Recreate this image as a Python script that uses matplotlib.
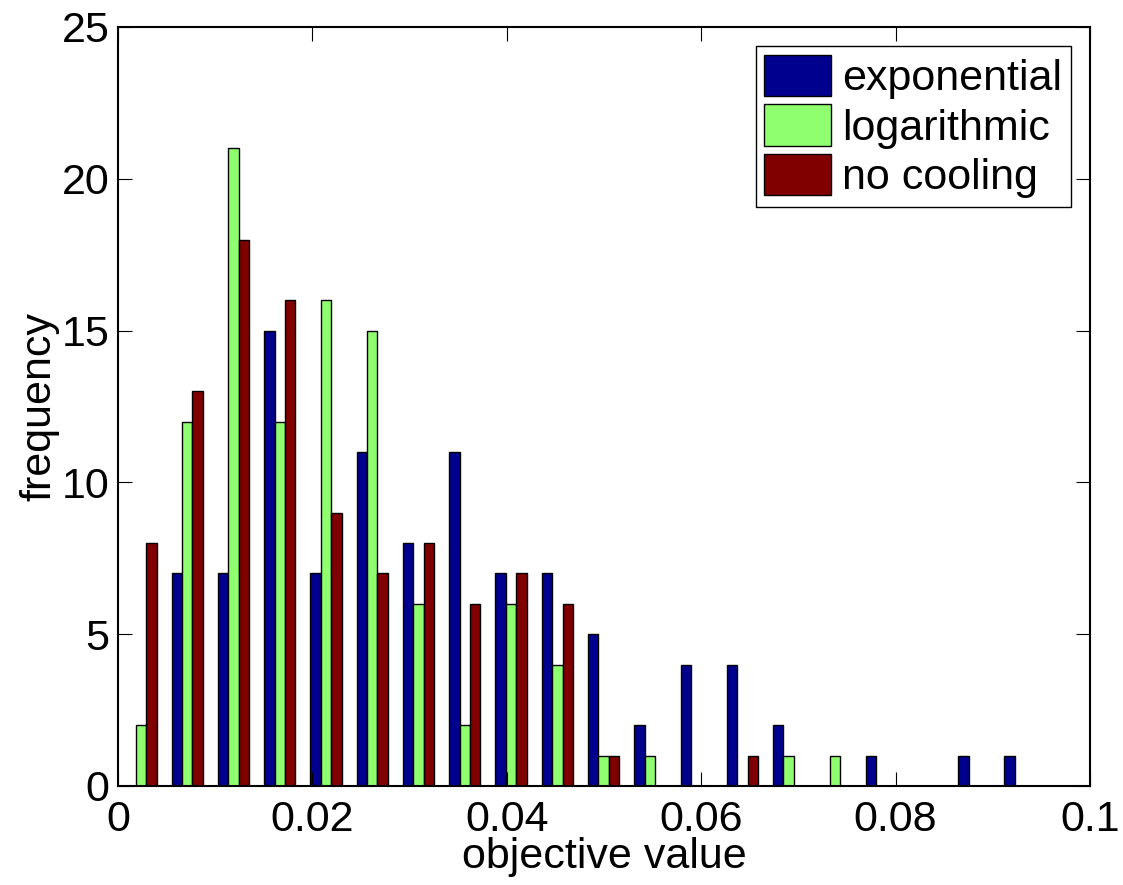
import matplotlib
matplotlib.use("Agg")
import matplotlib.pyplot as plt
import numpy as np

plt.rcParams['font.family'] = ['Liberation Sans', 'DejaVu Sans']

# histogram bin centres (20 bins over the data range)
first_center = 0.00236
bin_step = 0.00476
centers = first_center + bin_step * np.arange(20)

exponential = [0, 7, 7, 15, 7, 11, 8, 11, 7, 7, 5, 2, 4, 4, 2, 0, 1, 0, 1, 1]
logarithmic = [2, 12, 21, 12, 16, 15, 6, 2, 6, 4, 1, 1, 0, 0, 1, 1, 0, 0, 0, 0]
no_cooling = [8, 13, 18, 16, 9, 7, 8, 6, 7, 6, 1, 0, 0, 1, 0, 0, 0, 0, 0, 0]

labels = ['exponential', 'logarithmic', 'no cooling']
colors = ['#00008F', '#8FFF70', '#800000']

fig = plt.figure(figsize=(11.23, 8.85), dpi=100)
ax = fig.add_axes([0.1051, 0.1119, 0.8655, 0.8576])

w = 0.00107
for i, (vals, lab, c) in enumerate(zip([exponential, logarithmic, no_cooling], labels, colors)):
    ax.bar(centers + (i - 1) * w, vals, width=w, color=c, edgecolor='black',
           linewidth=1.0, label=lab)

ax.set_xlim(0, 0.1)
ax.set_ylim(0, 25)
ax.set_xticks([0, 0.02, 0.04, 0.06, 0.08, 0.1])
ax.set_xticklabels(['0', '0.02', '0.04', '0.06', '0.08', '0.1'])
ax.set_yticks([0, 5, 10, 15, 20, 25])
ax.tick_params(direction='in', length=10, width=0.8, top=True, right=True,
               labelsize=31)
ax.tick_params(axis='x', pad=10)
ax.tick_params(axis='y', pad=6)
for s in ax.spines.values():
    s.set_linewidth(1.5)

ax.set_xlabel('objective value', fontsize=31, labelpad=-2)
ax.set_ylabel('frequency', fontsize=31, labelpad=2)

leg = ax.legend(loc='upper right', fontsize=31, fancybox=False, framealpha=1,
                edgecolor='black', handlelength=1.55, handleheight=1.1,
                handletextpad=0.25, labelspacing=0.12, borderpad=0.2,
                borderaxespad=0.45)
leg.get_frame().set_linewidth(1.0)

plt.savefig('out.png', dpi=100)
